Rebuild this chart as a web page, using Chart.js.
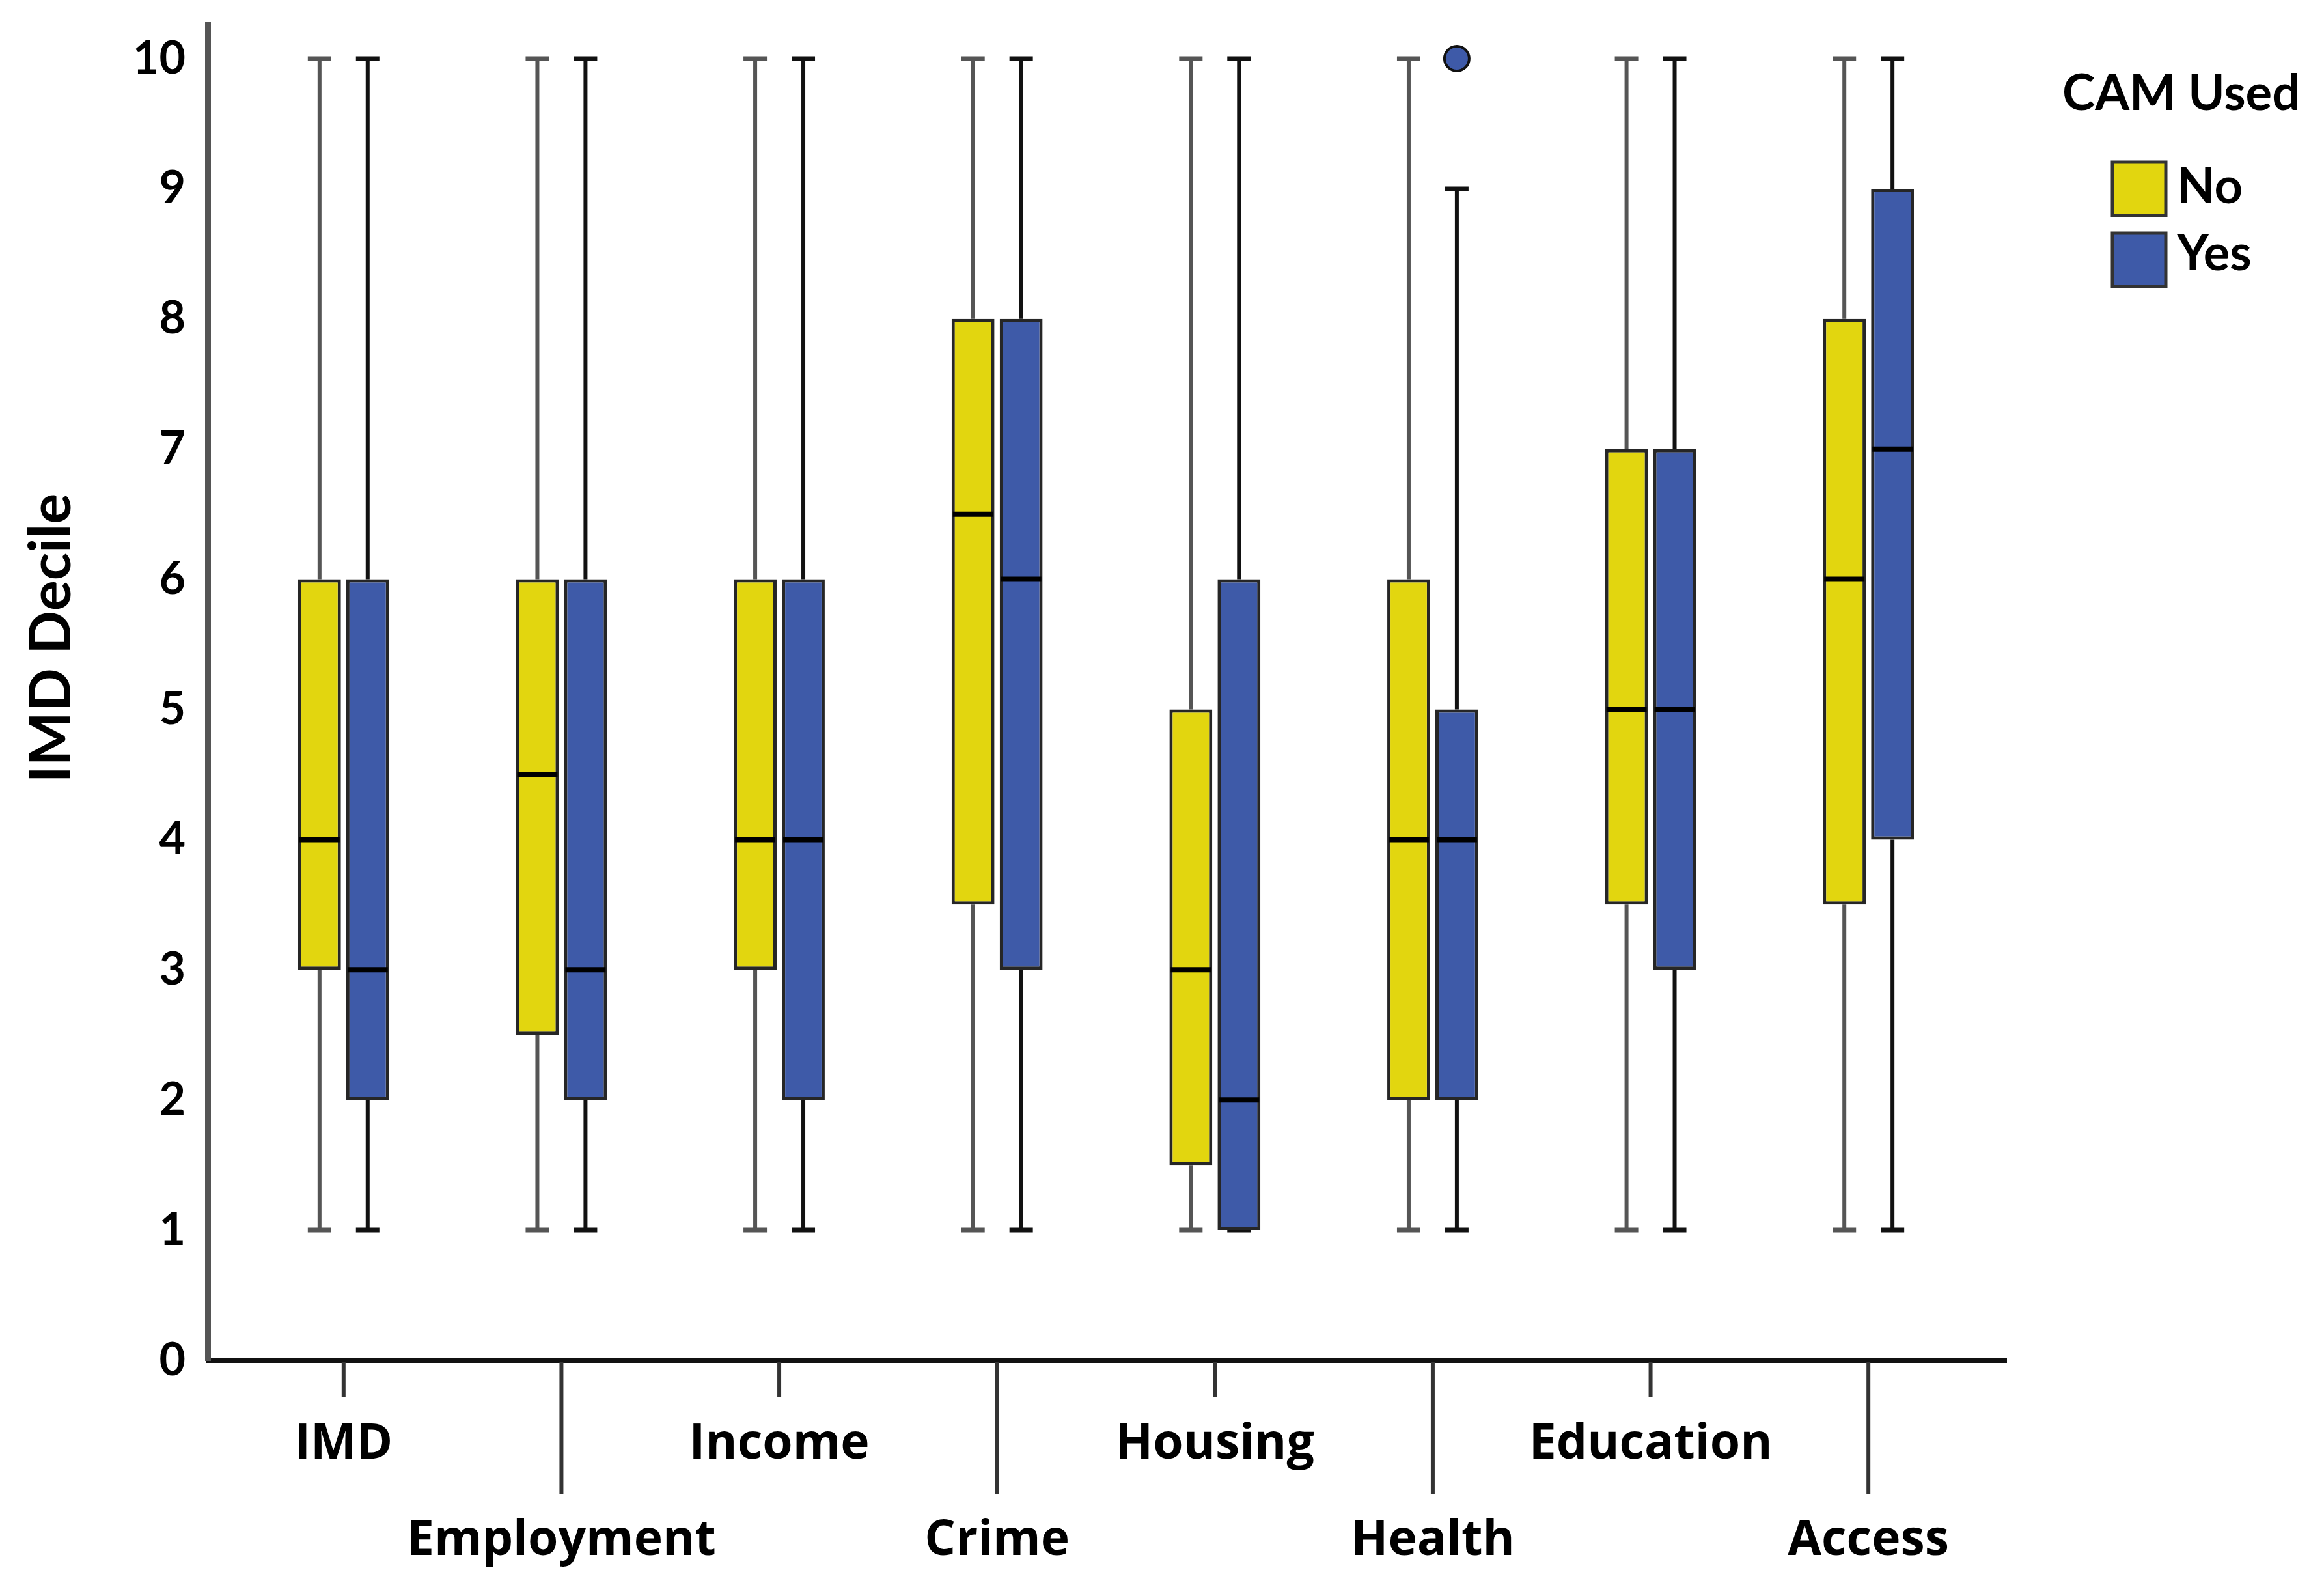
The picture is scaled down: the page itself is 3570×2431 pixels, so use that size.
<!DOCTYPE html>
<html><head><meta charset="utf-8">
<script src="https://cdn.jsdelivr.net/npm/chart.js@4"></script>
<style>html,body{margin:0;padding:0;background:#fff;}canvas{display:block;}</style>
</head><body>
<canvas id="c" width="3570" height="2431"></canvas>
<script>
const categories = ['IMD','Employment','Income','Crime','Housing','Health','Education','Access'];
const seriesNames = ['No','Yes'];
const noMin  = [1,1,1,1,1,1,1,1];
const noQ1   = [3,2.5,3,3.5,1.5,2,3.5,3.5];
const noMed  = [4,4.5,4,6.5,3,4,5,6];
const noQ3   = [6,6,6,8,5,6,7,8];
const noMax  = [10,10,10,10,10,10,10,10];
const yesMin = [1,1,1,1,1,1,1,1];
const yesQ1  = [2,2,2,3,1,2,3,4];
const yesMed = [3,3,4,6,2,4,5,7];
const yesQ3  = [6,6,6,8,6,5,7,9];
const yesMax = [10,10,10,10,10,9,10,10];
const yesOutliers = [[],[],[],[],[],[10],[],[]];
const noOutliers  = [[],[],[],[],[],[],[],[]];
const yTicks = [0,1,2,3,4,5,6,7,8,9,10];
const yTitle = 'IMD Decile';
const legendTitle = 'CAM Used';

const YELLOW = '#E2D60F', BLUE = '#3E5AA8';
const FONT = 'Lato';
const XFONT = 'Open Sans';

const stats = [
  {min:noMin, q1:noQ1, med:noMed, q3:noQ3, max:noMax, out:noOutliers, color:YELLOW, whisker:'#555'},
  {min:yesMin, q1:yesQ1, med:yesMed, q3:yesQ3, max:yesMax, out:yesOutliers, color:BLUE, whisker:'#111'}
];

const boxPlot = {
  id: 'boxPlot',
  beforeDatasetsDraw(chart) {
    const ctx = chart.ctx, ys = chart.scales.y;
    ctx.save();
    stats.forEach((s, d) => {
      const meta = chart.getDatasetMeta(d);
      meta.data.forEach((bar, i) => {
        const x = bar.x;
        ctx.strokeStyle = s.whisker;
        ctx.lineWidth = 6;
        ctx.beginPath();
        ctx.moveTo(x, ys.getPixelForValue(s.min[i])); ctx.lineTo(x, ys.getPixelForValue(s.q1[i]));
        ctx.moveTo(x, ys.getPixelForValue(s.q3[i])); ctx.lineTo(x, ys.getPixelForValue(s.max[i]));
        ctx.stroke();
        ctx.lineWidth = 7;
        ctx.beginPath();
        [s.min[i], s.max[i]].forEach(v => {
          const y = ys.getPixelForValue(v);
          ctx.moveTo(x - 18, y); ctx.lineTo(x + 18, y);
        });
        ctx.stroke();
      });
    });
    ctx.restore();
  },
  afterDatasetsDraw(chart) {
    const ctx = chart.ctx, ys = chart.scales.y;
    ctx.save();
    stats.forEach((s, d) => {
      const meta = chart.getDatasetMeta(d);
      meta.data.forEach((bar, i) => {
        const x = bar.x, w = bar.width;
        const y = ys.getPixelForValue(s.med[i]);
        ctx.strokeStyle = '#000';
        ctx.lineWidth = 8;
        ctx.beginPath();
        ctx.moveTo(x - w / 2 + 2, y); ctx.lineTo(x + w / 2 - 2, y);
        ctx.stroke();
        s.out[i].forEach(v => {
          ctx.beginPath();
          ctx.arc(x, ys.getPixelForValue(v), 19, 0, Math.PI * 2);
          ctx.fillStyle = s.color; ctx.fill();
          ctx.lineWidth = 4; ctx.strokeStyle = '#111'; ctx.stroke();
        });
      });
    });
    ctx.restore();
  },
  afterDraw(chart) {
    const ctx = chart.ctx, xs = chart.scales.x, area = chart.chartArea;
    ctx.save();
    ctx.strokeStyle = '#333';
    ctx.lineWidth = 6;
    categories.forEach((c, i) => {
      const x = xs.getPixelForValue(i);
      ctx.beginPath();
      ctx.moveTo(x, area.bottom + 3);
      ctx.lineTo(x, area.bottom + (i % 2 ? 205 : 57));
      ctx.stroke();
    });
    ctx.fillStyle = '#000';
    ctx.font = 'bold 88px ' + FONT;
    ctx.textAlign = 'center';
    ctx.textBaseline = 'alphabetic';
    ctx.translate(108, 980);
    ctx.rotate(-Math.PI / 2);
    ctx.fillText(yTitle, 0, 0);
    ctx.restore();
    ctx.save();
    ctx.font = 'bold 76px ' + FONT;
    ctx.fillStyle = '#000';
    ctx.textAlign = 'left';
    ctx.textBaseline = 'alphabetic';
    ctx.fillText(legendTitle, 3168, 169);
    const boxTops = [247, 356];
    const baselines = [312, 415];
    stats.forEach((s, d) => {
      ctx.fillStyle = s.color;
      ctx.fillRect(3245, boxTops[d] + 2, 82, 82);
      ctx.strokeStyle = '#333';
      ctx.lineWidth = 5;
      ctx.strokeRect(3245, boxTops[d] + 2, 82, 82);
      ctx.fillStyle = '#000';
      ctx.fillText(seriesNames[d], 3344, baselines[d]);
    });
    ctx.restore();
  }
};

const datasets = stats.map((s, d) => ({
  label: seriesNames[d],
  data: categories.map((c, i) => ({x: i, y: [s.q1[i], s.q3[i]]})),
  backgroundColor: s.color,
  borderColor: '#262626',
  borderWidth: 5,
  borderSkipped: false,
  categoryPercentage: 0.442,
  barPercentage: 0.89
}));

new Chart(document.getElementById('c'), {
  type: 'bar',
  data: { datasets },
  plugins: [boxPlot],
  options: {
    responsive: false,
    devicePixelRatio: 1,
    animation: false,
    layout: { padding: { top: 38, right: 488, left: 0, bottom: 0 } },
    plugins: { legend: { display: false }, tooltip: { enabled: false } },
    scales: {
      x: {
        type: 'linear',
        offset: false,
        min: -0.624,
        max: 7.633,
        grid: { display: false, drawTicks: false, offset: false },
        border: { display: true, color: '#111', width: 7 },
        afterBuildTicks: (scale) => { scale.ticks = categories.map((c, i) => ({ value: i })); },
        afterFit: (scale) => { scale.height = 342; scale.paddingLeft = 0; scale.paddingRight = 0; },
        ticks: {
          autoSkip: false,
          maxRotation: 0,
          padding: 56,
          color: '#000',
          font: { family: XFONT, weight: 'bold', size: 75, lineHeight: 1.97 },
          callback: (v, idx) => (idx % 2 ? ['', categories[idx]] : categories[idx])
        }
      },
      y: {
        min: 0,
        max: 10.26,
        grid: { display: false, drawTicks: false },
        border: { display: true, color: '#555', width: 9 },
        afterBuildTicks: (scale) => { scale.ticks = yTicks.map(v => ({ value: v })); },
        afterFit: (scale) => { scale.width = 319; scale.paddingTop = 0; scale.paddingBottom = 0; },
        ticks: {
          padding: 34,
          color: '#000',
          font: { family: FONT, weight: 'bold', size: 70 }
        }
      }
    }
  }
});
</script>
</body></html>
